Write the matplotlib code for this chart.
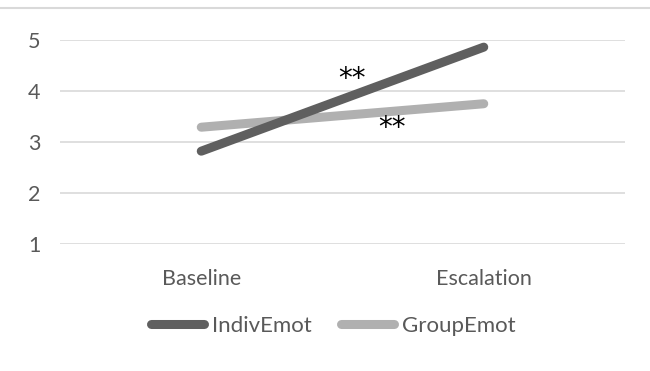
import matplotlib.pyplot as plt
from matplotlib.lines import Line2D

plt.rcParams['font.family'] = ['Lato', 'DejaVu Sans']

categories = ['Baseline', 'Escalation']
indiv_emot = [2.82, 4.86]
group_emot = [3.29, 3.75]
y_ticks = [1, 2, 3, 4, 5]

DARK = '#5f5f5f'
LIGHT = '#b0b0b0'
TEXT = '#595959'

fig = plt.figure(figsize=(6.5, 3.71), dpi=100)
ax = fig.add_axes([60 / 650, 1 - 244 / 371, 565 / 650, 204 / 371])

x = [0, 1]
ax.plot(x, indiv_emot, color=DARK, linewidth=6.5, solid_capstyle='round',
        label='IndivEmot', clip_on=False, zorder=3)
ax.plot(x, group_emot, color=LIGHT, linewidth=6.5, solid_capstyle='round',
        label='GroupEmot', clip_on=False, zorder=2)

# significance markers
ax.text(0.535, 4.24, '**', ha='center', va='center', fontsize=20,
        color='black', family='DejaVu Sans')
ax.text(0.675, 3.28, '**', ha='center', va='center', fontsize=20,
        color='black', family='DejaVu Sans')

ax.set_xlim(-0.5, 1.5)
ax.set_ylim(1, 5)
ax.set_yticks(y_ticks)
ax.set_xticks(x)
ax.set_xticklabels(categories)
ax.tick_params(axis='both', length=0, labelsize=15.5, labelcolor=TEXT)
ax.tick_params(axis='y', pad=14)
ax.tick_params(axis='x', pad=18)
ax.grid(True, axis='y', color='#d9d9d9', linewidth=1.2)
ax.set_axisbelow(True)
for s in ax.spines.values():
    s.set_visible(False)

# thin border line at top of figure
fig.add_artist(Line2D([0, 1], [1 - 8 / 371, 1 - 8 / 371], color='#d9d9d9',
                      linewidth=1.5, transform=fig.transFigure))

handles = [Line2D([0], [0], color=DARK, linewidth=6.5, solid_capstyle='round'),
           Line2D([0], [0], color=LIGHT, linewidth=6.5, solid_capstyle='round')]
leg = fig.legend(handles, ['IndivEmot', 'GroupEmot'], loc='center',
                 bbox_to_anchor=(333 / 650, 1 - 326 / 371), ncol=2,
                 frameon=False, fontsize=16, handlelength=2.4,
                 handletextpad=0.35, columnspacing=1.3)
for t in leg.get_texts():
    t.set_color(TEXT)

fig.savefig('out.png', dpi=100)
